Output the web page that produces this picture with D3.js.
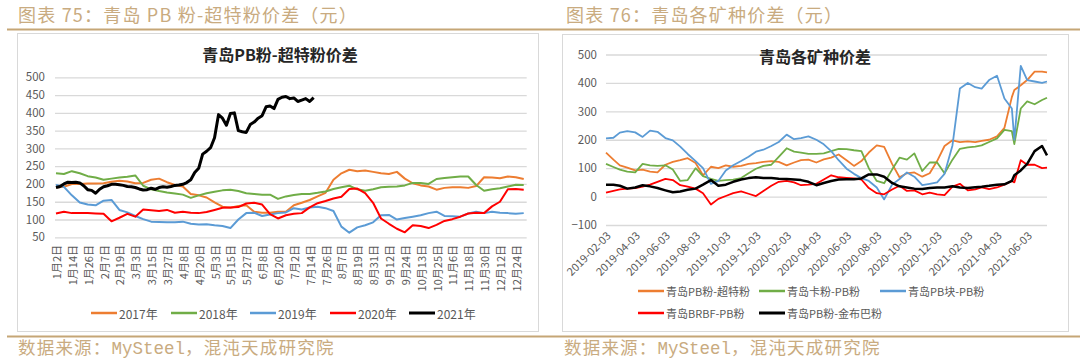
<!DOCTYPE html>
<html><head><meta charset="utf-8">
<script src="https://cdn.jsdelivr.net/npm/d3@7"></script>
<style>body{margin:0;background:#fff;} svg{display:block;}</style>
</head><body>
<svg id="c" width="1080" height="360"></svg>
<script>
// ---------- Left chart data: 青岛PB粉-超特粉价差 (trading-day category axis) ----------
const qdLabels = ["1月2日","1月14日","1月26日","2月7日","2月19日","3月3日","3月15日","3月27日","4月8日","4月20日",
  "5月3日","5月15日","5月27日","6月8日","6月20日","7月2日","7月14日","7月26日","8月7日","8月19日",
  "8月31日","9月12日","9月24日","10月13日","10月25日","11月6日","11月18日","11月30日","12月12日","12月24日"];
const qdCategoryCount = 238;   // trading days on the axis
const qdLabelEvery = 8;        // a label every 8 categories
const qdSampleStep = 4;        // values below are read every 4 trading days
const qdSampleStep2021 = 2;    // 2021 read every 2 trading days
const qdYTicks = [50,100,150,200,250,300,350,400,450,500];
const y2017 = [190,192,200,200,201,201,202,206,209,207,202,
  203,212,215,205,197,193,172,168,162,148,136,133,138,140,122,119,119,122,122,140,147,155,165,175,212,230,240,236,238,234,
  230,228,234,215,202,196,193,184,189,191,191,189,194,219,218,216,221,219,214];
const y2018 = [230,228,236,230,222,218,212,215,218,220,224,
  195,185,180,176,173,170,161,168,174,178,182,184,180,174,172,170,170,158,165,169,172,172,175,179,186,191,195,185,181,185,
  191,192,193,196,203,203,200,214,217,219,221,221,197,181,185,188,193,198,197];
const y2019 = [197,192,168,148,142,140,153,155,127,120,110,
  101,94,93,92,92,94,88,86,87,84,82,76,100,118,119,110,114,118,120,132,128,134,136,132,124,80,63,78,84,92,
  112,113,100,104,108,112,118,122,110,109,108,117,122,118,122,119,118,116,118];
const y2020 = [117,122,118,118,118,117,116,95,105,116,108,
  128,126,124,127,119,122,119,118,121,127,133,134,135,145,147,142,115,103,112,116,118,134,146,152,159,164,186,187,174,147,
  103,88,74,64,84,82,76,85,96,101,108,117,119,118,137,150,185,186,184];
const y2021 = [190,193,200,205,204,205,203,
  195,184,182,174,185,192,195,199,199,198,196,193,192,190,186,183,184,188,185,190,192,191,193,196,197,199,204,212,232,244,
  284,292,302,330,395,385,365,398,400,350,347,345,367,374,385,392,417,419,412,438,444,446,440,442,432,436,440,432,443];
const qdSeriesNames = ["2017年","2018年","2019年","2020年","2021年"];

// ---------- Right chart data: 青岛各矿种价差 ----------
const mineDates = ["2019-02-03","2019-02-18","2019-03-03","2019-03-18","2019-04-03","2019-04-18","2019-05-03","2019-05-18",
  "2019-06-03","2019-06-18","2019-07-03","2019-07-18","2019-08-03","2019-08-18","2019-09-03","2019-09-18","2019-10-03",
  "2019-10-18","2019-11-03","2019-11-18","2019-12-03","2019-12-18",
  "2020-01-03","2020-01-18","2020-02-03","2020-02-18","2020-03-03","2020-03-18","2020-04-03","2020-04-18","2020-05-03",
  "2020-05-18","2020-06-03","2020-06-18","2020-07-03","2020-07-18","2020-08-03","2020-08-18","2020-09-03","2020-09-18",
  "2020-10-03","2020-10-18","2020-11-03","2020-11-18","2020-12-03","2020-12-18",
  "2021-01-03","2021-01-18","2021-02-03","2021-02-18","2021-03-03","2021-03-18","2021-04-03","2021-04-18","2021-05-03",
  "2021-05-08","2021-05-21","2021-06-03","2021-06-18","2021-07-03","2021-07-13"];
const pbSuper = [155,130,110,102,92,95,88,85,112,122,128,135,118,75,105,100,110,105,108,115,118,122,
  125,122,110,120,128,130,120,131,137,148,128,108,125,155,180,175,115,68,82,85,70,82,125,178,
  198,192,194,192,196,200,212,242,350,375,392,410,440,440,437];
const kaPb = [115,104,95,88,85,115,110,108,110,95,55,58,100,72,62,55,58,60,65,82,98,108,
  112,140,170,158,155,150,150,152,160,168,167,163,160,100,55,47,95,137,130,152,90,120,120,82,
  130,168,173,176,180,192,205,235,230,185,310,335,325,340,348];
const pbLump = [205,207,225,230,226,210,232,228,206,198,176,150,125,100,45,55,92,110,125,140,158,165,
  178,192,218,202,206,212,200,184,160,128,98,80,65,55,32,-10,42,62,85,70,40,45,50,80,
  180,380,400,385,380,410,425,345,310,200,460,410,405,400,405];
const brbfPb = [14,20,25,28,30,35,42,52,62,58,40,35,28,12,-28,-8,2,12,18,10,2,20,
  38,52,55,50,40,42,45,60,75,68,66,64,60,30,12,8,25,38,20,22,8,14,8,5,
  35,45,22,25,32,26,32,42,55,50,128,112,112,100,102];
const pbJmb = [42,42,38,28,32,40,36,30,22,15,18,24,28,42,58,38,42,52,60,65,68,65,
  65,63,62,60,58,52,40,48,55,60,61,61,64,78,78,70,48,36,32,28,27,30,32,32,
  36,32,30,33,35,38,42,43,55,75,92,115,160,178,145];
const mineXTicks = ["2019-02-03","2019-04-03","2019-06-03","2019-08-03","2019-10-03","2019-12-03","2020-02-03",
  "2020-04-03","2020-06-03","2020-08-03","2020-10-03","2020-12-03","2021-02-03","2021-04-03","2021-06-03"];
const mineYTicks = [-100,0,100,200,300,400,500];
const mineAxisStart = "2019-02-03", mineAxisEnd = "2021-07-13";
const mineSeriesNames = ["青岛PB粉-超特粉","青岛卡粉-PB粉","青岛PB块-PB粉","青岛BRBF-PB粉","青岛PB粉-金布巴粉"];

// ---------- styles ----------
const FONT = "'Noto Sans CJK SC', 'Liberation Sans', sans-serif";
const GOLD = "#c5a676", GOLDTXT = "#c9ab80", GRID = "#d9d9d9", AX = "#595959";
const COLORS = ["#ED7D31","#70AD47","#5B9BD5","#FF0000","#000000"];

const svg = d3.select("#c").style("font-family", FONT);

// header and footer decoration
svg.append("line").attr("x1",7).attr("x2",1080).attr("y1",29.5).attr("y2",29.5).attr("stroke",GOLD).attr("stroke-width",2);
svg.append("line").attr("x1",7).attr("x2",1080).attr("y1",336.5).attr("y2",336.5).attr("stroke",GOLD).attr("stroke-width",2);
svg.append("rect").attr("x",17.5).attr("y",33.5).attr("width",521).attr("height",298).attr("fill","none").attr("stroke",GRID);
svg.append("rect").attr("x",562.5).attr("y",34.5).attr("width",506).attr("height",297).attr("fill","none").attr("stroke",GRID);

const hdr = (x, t) => svg.append("text").attr("x",x).attr("y",22).attr("fill",GOLDTXT)
  .attr("font-size",18).attr("letter-spacing",1.2).text(t);
hdr(18, "图表 75：青岛 PB 粉-超特粉价差（元）");
hdr(566, "图表 76：青岛各矿种价差（元）");
const src = (x) => {
  const t = svg.append("text").attr("x",x).attr("y",354).attr("fill",GOLDTXT).attr("font-size",17.5).attr("letter-spacing",1.2);
  t.append("tspan").text("数据来源：");
  t.append("tspan").attr("font-family","'Liberation Mono', monospace").attr("letter-spacing",0).text("MySteel");
  t.append("tspan").text("，混沌天成研究院");
};
src(18); src(564);

// ---------- Left chart ----------
const L = {x0:55, x1:526.7, y0:237.3, y1:77.3};
const x1s = d3.scaleLinear().domain([0, qdCategoryCount]).range([L.x0, L.x1]);
const y1s = d3.scaleLinear().domain([50, 500]).range([L.y0, L.y1]);
const gL = svg.append("g");
gL.append("g").attr("transform",`translate(${L.x0},0)`)
  .call(d3.axisLeft(y1s).tickValues(qdYTicks).tickSize(-(L.x1-L.x0)).tickPadding(10))
  .call(g => { g.select(".domain").remove();
    g.selectAll("line").attr("stroke",GRID).attr("stroke-width",1.3);
    g.selectAll("text").attr("fill",AX).attr("font-size",11.5).attr("font-family",FONT); });
qdLabels.forEach((lab, k) => {
  const xx = x1s(k*qdLabelEvery + 0.5), yy = 245;
  gL.append("text").attr("x",xx).attr("y",yy).attr("transform",`rotate(-90,${xx},${yy})`)
    .attr("text-anchor","end").attr("dominant-baseline","central").attr("fill",AX).attr("font-size",11).text(lab);
});
gL.append("text").attr("x",280).attr("y",61).attr("text-anchor","middle").attr("font-size",16)
  .attr("font-weight","bold").attr("fill","#262626").text("青岛PB粉-超特粉价差");
const qdSeries = [[y2017,qdSampleStep],[y2018,qdSampleStep],[y2019,qdSampleStep],[y2020,qdSampleStep],[y2021,qdSampleStep2021]];
qdSeries.forEach(([vals, step], s) => {
  const line = d3.line().x((d,i) => x1s(i*step + 0.5)).y(d => y1s(d));
  gL.append("path").datum(vals).attr("d", line).attr("fill","none").attr("stroke",COLORS[s])
    .attr("stroke-width", s === 4 ? 3 : 2).attr("stroke-linejoin","round");
});
const legL = [91, 171, 250, 330, 409];
qdSeriesNames.forEach((n, s) => {
  gL.append("line").attr("x1",legL[s]).attr("x2",legL[s]+26).attr("y1",313).attr("y2",313)
    .attr("stroke",COLORS[s]).attr("stroke-width", s === 4 ? 3 : 2.5);
  gL.append("text").attr("x",legL[s]+28).attr("y",313).attr("dominant-baseline","central")
    .attr("fill",AX).attr("font-size",12).text(n);
});

// ---------- Right chart ----------
const parse = d3.utcParse("%Y-%m-%d");
const R = {x0:606, x1:1047, y0:225, y1:54.5};
const x2s = d3.scaleUtc().domain([parse(mineAxisStart), parse(mineAxisEnd)]).range([R.x0, R.x1]);
const y2s = d3.scaleLinear().domain([-100, 500]).range([R.y0, R.y1]);
const gR = svg.append("g");
gR.append("g").attr("transform",`translate(${R.x0},0)`)
  .call(d3.axisLeft(y2s).tickValues(mineYTicks).tickSize(-(R.x1-R.x0)).tickPadding(9))
  .call(g => { g.select(".domain").remove();
    g.selectAll("line").attr("stroke",GRID).attr("stroke-width",1.3);
    g.selectAll("text").attr("fill",AX).attr("font-size",11.5).attr("font-family",FONT); });
mineXTicks.forEach(t => {
  const xx = x2s(parse(t)) + 2, yy = 233;
  gR.append("text").attr("x",xx).attr("y",yy).attr("transform",`rotate(-45,${xx},${yy})`)
    .attr("text-anchor","end").attr("dominant-baseline","central").attr("fill",AX).attr("font-size",11).text(t);
});
gR.append("text").attr("x",815).attr("y",63).attr("text-anchor","middle").attr("font-size",16)
  .attr("font-weight","bold").attr("fill","#262626").text("青岛各矿种价差");
const dates = mineDates.map(parse);
[pbSuper, kaPb, pbLump, brbfPb, pbJmb].forEach((vals, s) => {
  const line = d3.line().x((d,i) => x2s(dates[i])).y(d => y2s(d));
  gR.append("path").datum(vals).attr("d", line).attr("fill","none").attr("stroke",COLORS[s])
    .attr("stroke-width", s === 4 ? 2.5 : 1.8).attr("stroke-linejoin","round");
});
const legR = [[638,291],[759,291],[880,291],[638,313],[759,313]];
mineSeriesNames.forEach((n, s) => {
  const [lx, ly] = legR[s];
  gR.append("line").attr("x1",lx).attr("x2",lx+26).attr("y1",ly).attr("y2",ly)
    .attr("stroke",COLORS[s]).attr("stroke-width", s === 4 ? 3 : 2.5);
  gR.append("text").attr("x",lx+28).attr("y",ly).attr("dominant-baseline","central")
    .attr("fill",AX).attr("font-size",11).text(n);
});
</script>
</body></html>
